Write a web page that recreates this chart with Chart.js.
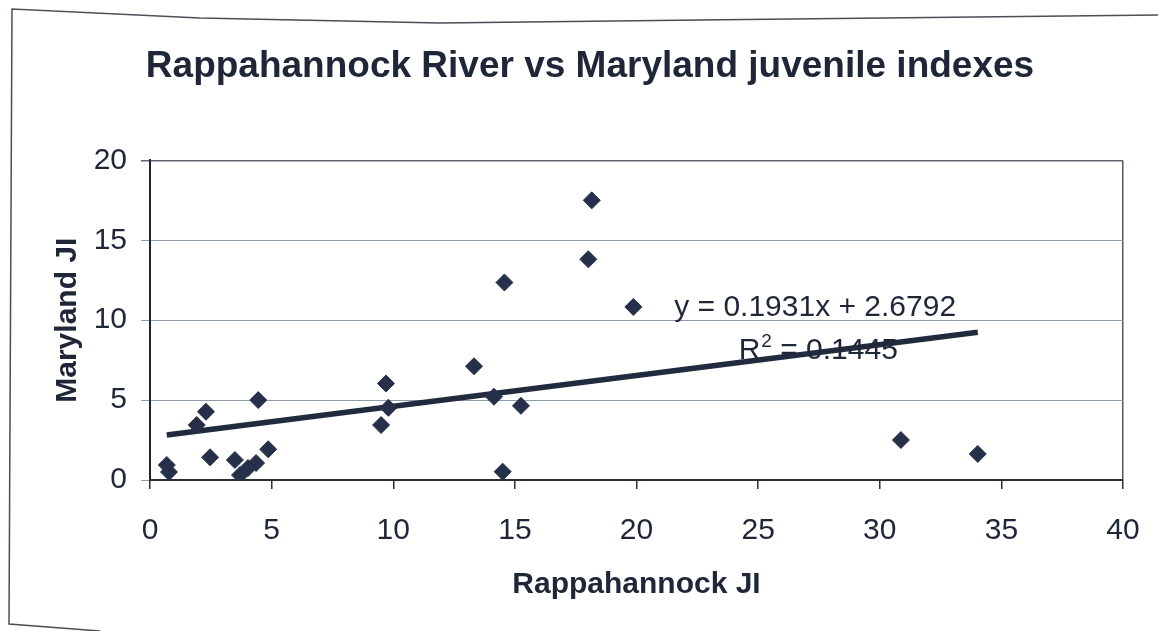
<!DOCTYPE html>
<html>
<head>
<meta charset="utf-8">
<style>
  html, body { margin: 0; padding: 0; background: #ffffff; }
  #wrap { width: 1158px; height: 631px; position: relative; }
</style>
<script src="https://cdn.jsdelivr.net/npm/chart.js@4/dist/chart.umd.min.js"></script>
</head>
<body>
<div id="wrap"><canvas id="c" width="1158" height="631"></canvas></div>
<script>
// Juvenile index pairs, one entry per year
const rappahannockJI = [0.69, 0.78, 1.92, 2.30, 2.47, 3.49, 3.70, 4.03, 4.36, 4.45, 4.86,
                        9.50, 9.70, 9.80, 13.32, 14.14, 14.50, 14.57, 15.25, 18.02, 18.16, 19.87,
                        30.87, 34.03];
const marylandJI    = [0.94, 0.50, 3.44, 4.27, 1.42, 1.25, 0.31, 0.75, 1.06, 5.00, 1.92,
                        3.44, 6.04, 4.52, 7.12, 5.21, 0.52, 12.36, 4.64, 13.81, 17.50, 10.83,
                        2.50, 1.63];

// Linear trend as stated on the chart
const trendSlope = 0.1931;
const trendIntercept = 2.6792;
const rSquared = 0.1445;

const xTicks = [0, 5, 10, 15, 20, 25, 30, 35, 40];
const yTicks = [0, 5, 10, 15, 20];

const INK = '#1f2637';
const MARK = '#27304a';
const FONT = "'Liberation Sans', Arial, sans-serif";

const points = rappahannockJI.map((x, i) => ({ x: x, y: marylandJI[i] }));
const xMin = Math.min(...rappahannockJI);
const xMax = Math.max(...rappahannockJI);
const trendPoints = [xMin, xMax].map(x => ({ x: x, y: trendSlope * x + trendIntercept }));

// Outer frame of the chart sheet and the trend equation text
const decor = {
  id: 'decor',
  beforeDraw(chart) {
    const ctx = chart.ctx;
    ctx.save();
    ctx.fillStyle = '#ffffff';
    ctx.fillRect(0, 0, chart.width, chart.height);
    ctx.strokeStyle = '#4a4f58';
    ctx.lineWidth = 1.5;
    ctx.beginPath();
    ctx.moveTo(1158, 15);
    ctx.lineTo(700, 20);
    ctx.lineTo(440, 23);
    ctx.lineTo(200, 18);
    ctx.lineTo(12, 9);
    ctx.lineTo(9, 624);
    ctx.lineTo(100, 631);
    ctx.stroke();
    ctx.restore();
  },
  afterDatasetsDraw(chart) {
    const ctx = chart.ctx;
    const xs = chart.scales.x, ys = chart.scales.y;
    ctx.save();
    ctx.fillStyle = INK;
    ctx.font = '30px ' + FONT;
    ctx.textBaseline = 'middle';
    ctx.textAlign = 'left';
    const eq = 'y = ' + trendSlope.toFixed(4) + 'x + ' + trendIntercept.toFixed(4);
    ctx.fillText(eq, xs.getPixelForValue(21.55), ys.getPixelForValue(10.75));
    // R² line with raised exponent
    const rx = xs.getPixelForValue(24.2);
    const ry = ys.getPixelForValue(8.1);
    ctx.fillText('R', rx, ry);
    const rw = ctx.measureText('R').width;
    ctx.font = '19px ' + FONT;
    ctx.fillText('2', rx + rw + 1, ry - 9);
    const sw = ctx.measureText('2').width;
    ctx.font = '30px ' + FONT;
    ctx.fillText(' = ' + rSquared.toFixed(4), rx + rw + sw + 1, ry);
    ctx.restore();
  }
};

new Chart(document.getElementById('c'), {
  type: 'scatter',
  data: {
    datasets: [
      {
        label: 'Maryland JI',
        data: points,
        pointStyle: 'rectRot',
        pointRadius: 8.5,
        pointHoverRadius: 8.5,
        backgroundColor: MARK,
        borderColor: MARK,
        borderWidth: 1,
        order: 1
      },
      {
        type: 'line',
        label: 'Linear trend',
        data: trendPoints,
        borderColor: '#222a3d',
        borderWidth: 5.5,
        pointRadius: 0,
        fill: false,
        order: 2
      }
    ]
  },
  options: {
    responsive: false,
    animation: false,
    devicePixelRatio: 1,
    layout: { padding: { top: 10, left: 57, right: 35, bottom: 0 } },
    plugins: {
      legend: { display: false },
      tooltip: { enabled: false },
      title: {
        display: true,
        text: 'Rappahannock River vs Maryland juvenile indexes',
        color: INK,
        font: { family: FONT, size: 37, weight: 'bold' },
        padding: { top: 35, bottom: 71 }
      }
    },
    scales: {
      x: {
        type: 'linear',
        min: 0,
        max: 40,
        afterBuildTicks(scale) { scale.ticks = xTicks.map(v => ({ value: v })); },
        afterFit(scale) {
          scale.height = 151;
          scale.paddingLeft = 0;
          scale.paddingRight = 0;
        },
        ticks: {
          color: INK,
          padding: 24,
          font: { family: FONT, size: 30 }
        },
        grid: {
          drawOnChartArea: true,
          tickLength: 9,
          tickColor: '#2a2f3a',
          lineWidth: 1.5,
          color: ctx => (ctx.tick && ctx.tick.value === 40) ? '#555a63' : 'rgba(0,0,0,0)'
        },
        border: { color: '#2a2f3a', width: 2 },
        title: {
          display: true,
          text: 'Rappahannock JI',
          color: INK,
          font: { family: FONT, size: 30, weight: 'bold' },
          padding: { top: 0, bottom: 28 }
        }
      },
      y: {
        type: 'linear',
        min: 0,
        max: 20,
        afterBuildTicks(scale) { scale.ticks = yTicks.map(v => ({ value: v })); },
        afterFit(scale) { scale.width = 93; },
        ticks: {
          color: INK,
          padding: 14,
          font: { family: FONT, size: 30 }
        },
        grid: {
          tickLength: 9,
          lineWidth: ctx => (ctx.tick && ctx.tick.value === 20) ? 1.5 : 1,
          color: ctx => (ctx.tick && ctx.tick.value === 20) ? '#5c636e' : '#8e9cab'
        },
        border: { color: '#1f2430', width: 2 },
        title: {
          display: true,
          text: 'Maryland JI',
          color: INK,
          font: { family: FONT, size: 30, weight: 'bold', lineHeight: 1.0 },
          padding: { top: -4, bottom: 0 }
        }
      }
    }
  },
  plugins: [decor]
});
</script>
</body>
</html>
